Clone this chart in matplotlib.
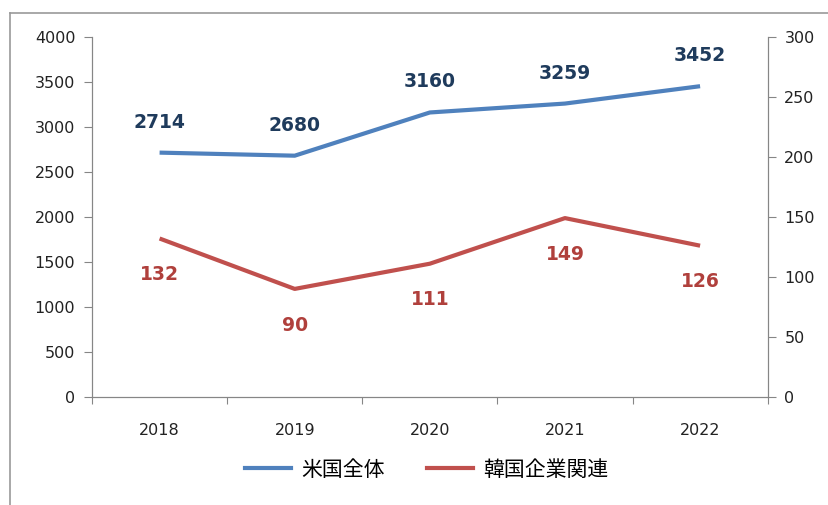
import matplotlib.pyplot as plt
from matplotlib.lines import Line2D

plt.rcParams['font.family'] = ['Noto Sans CJK JP', 'DejaVu Sans']

years = ['2018', '2019', '2020', '2021', '2022']
us_total = [2714, 2680, 3160, 3259, 3452]
korea_related = [132, 90, 111, 149, 126]

blue = '#4F81BD'
red = '#C0504D'
grey = '#868686'

fig = plt.figure(figsize=(8.29, 5.05), dpi=100)
ax = fig.add_axes([0.111, 0.214, 0.815, 0.713])
ax2 = ax.twinx()

x = range(len(years))
ax.plot(x, us_total, color=blue, lw=3, solid_capstyle='butt')
ax2.plot(x, korea_related, color=red, lw=3, solid_capstyle='butt')

# etiquetas de dados
for i, v in enumerate(us_total):
    ax.annotate(str(v), (i, v), xytext=(0, 22), textcoords='offset points',
                ha='center', va='center', fontsize=13.5, fontweight='bold',
                color='#1F3B5C', family='DejaVu Sans')
for i, v in enumerate(korea_related):
    ax2.annotate(str(v), (i, v), xytext=(0, -26), textcoords='offset points',
                 ha='center', va='center', fontsize=13.5, fontweight='bold',
                 color='#B0403C', family='DejaVu Sans')

ax.set_xlim(-0.5, len(years) - 0.5)
ax.set_ylim(0, 4000)
ax2.set_ylim(0, 300)
ax.set_yticks(range(0, 4001, 500))
ax2.set_yticks(range(0, 301, 50))

# ticks do eixo x entre categorias (estilo Excel)
ax.set_xticks([i - 0.5 for i in range(len(years) + 1)])
ax.set_xticklabels([])
ax.set_xticks(list(x), minor=True)
ax.set_xticklabels(years, minor=True)
ax.tick_params(axis='x', which='minor', length=0, pad=19)
ax.tick_params(axis='x', which='major', length=5, color=grey)

for a in (ax, ax2):
    a.spines['top'].set_visible(False)
    for s in ('left', 'right', 'bottom'):
        a.spines[s].set_color(grey)
    a.tick_params(axis='y', length=6, color=grey, labelsize=11.5, labelcolor='#222222', pad=6)
    for lbl in a.get_yticklabels():
        lbl.set_family('DejaVu Sans')
ax.tick_params(axis='x', which='minor', labelsize=11.5, labelcolor='#222222')
for lbl in ax.get_xticklabels(minor=True):
    lbl.set_family('DejaVu Sans')

handles = [Line2D([], [], color=blue, lw=3), Line2D([], [], color=red, lw=3)]
fig.legend(handles, ['米国全体', '韓国企業関連'], loc='center', bbox_to_anchor=(0.515, 0.07),
           ncol=2, frameon=False, fontsize=15, handlelength=2.2, columnspacing=2.0,
           handletextpad=0.5)

# moldura externa
fig.add_artist(Line2D([0.012, 0.012], [0, 0.974], color='#999999', lw=1.2, transform=fig.transFigure))
fig.add_artist(Line2D([0.012, 1.0], [0.974, 0.974], color='#999999', lw=1.2, transform=fig.transFigure))

fig.savefig('out.png', dpi=100)
